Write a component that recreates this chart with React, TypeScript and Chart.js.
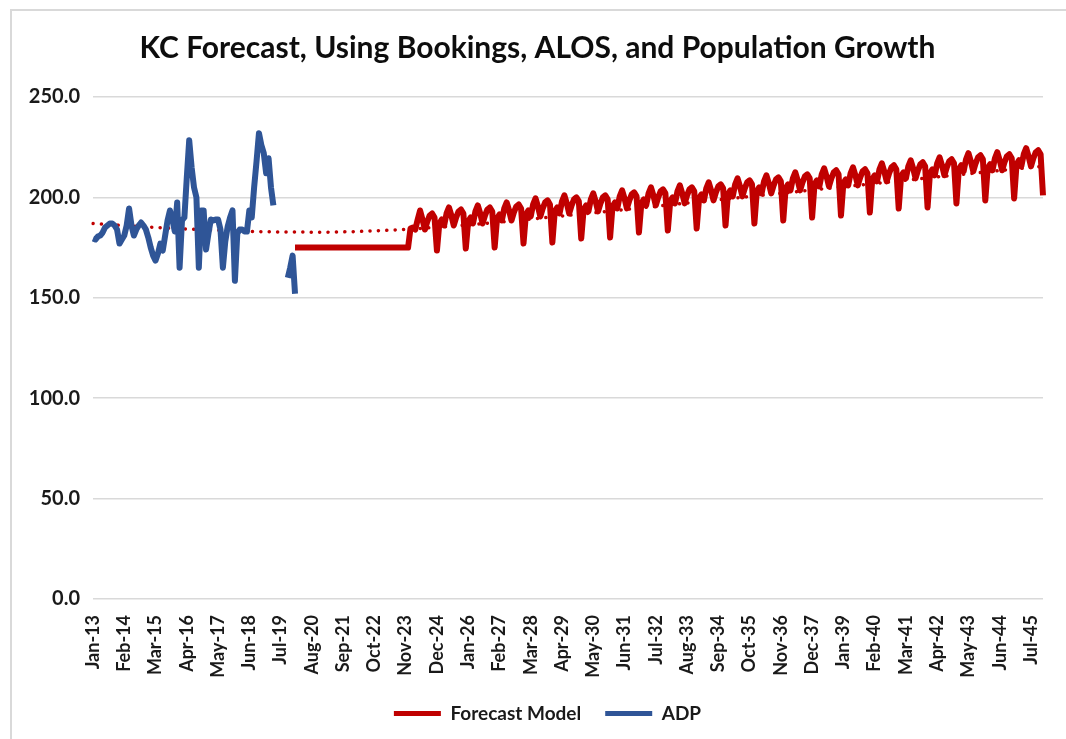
import React, { useEffect, useRef } from "react";
import { Chart, registerables } from "chart.js";

Chart.register(...registerables);

const TITLE = "KC Forecast, Using Bookings, ALOS, and Population Growth";
const MONTH_NAMES = ["Jan", "Feb", "Mar", "Apr", "May", "Jun", "Jul", "Aug", "Sep", "Oct", "Nov", "Dec"];
const FIRST_YEAR = 2013;
const N_MONTHS = 396; // Jan-13 .. Dec-45

const TICK_LABELS = [
  "Jan-13", "Feb-14", "Mar-15", "Apr-16", "May-17", "Jun-18", "Jul-19", "Aug-20",
  "Sep-21", "Oct-22", "Nov-23", "Dec-24", "Jan-26", "Feb-27", "Mar-28", "Apr-29",
  "May-30", "Jun-31", "Jul-32", "Aug-33", "Sep-34", "Oct-35", "Nov-36", "Dec-37",
  "Jan-39", "Feb-40", "Mar-41", "Apr-42", "May-43", "Jun-44", "Jul-45",
];
const TICK_EVERY = 13;

// ADP actuals, Jan-13 .. Apr-19
const ADP_2013_2019 = [
  179.5, 179, 180.5, 181, 182.5, 185, 186, 187, 187, 186, 184, 177,
  179, 181, 186, 194.5, 186, 181, 184, 186, 187.5, 186, 184, 180,
  175, 171, 168.5, 172, 177, 173.5, 181, 188.5, 193.5, 189, 183, 197.5,
  165, 188.5, 190, 210, 228.5, 215, 205, 200, 165, 193.5, 193.5, 174,
  182, 189, 188.5, 189, 189, 184, 165, 178, 185.5, 190, 193.5, 158.5,
  182, 184, 184, 183, 183, 193.5, 190, 205, 218, 232, 226, 222,
  212, 219.5, 205, 196,
];
// ADP actuals, Oct-19 .. Jan-20
const ADP_LATE_START = 81;
const ADP_LATE = [160, 165, 171, 152];

// Forecast model, flat part Jan-20 .. Dec-23
const FORECAST_START = 84;
const FORECAST_FLAT = [
  175, 175, 175, 175, 175, 175, 175, 175, 175, 175, 175, 175,
  175, 175, 175, 175, 175, 175, 175, 175, 175, 175, 175, 175,
  175, 175, 175, 175, 175, 175, 175, 175, 175, 175, 175, 175,
  175, 175, 175, 175, 175, 175, 175, 175, 175, 175, 175, 175,
];
// Forecast model, seasonal part Jan-24 .. Dec-45
const FORECAST_SEASONAL = [
  184.5, 185, 184, 189, 193.5, 189, 184, 188, 191, 192, 190, 173.5,
  187, 189, 186, 192, 195, 191, 186, 190, 193, 194, 192, 174.5,
  188, 190, 187, 193, 196, 192, 187, 191, 194, 195, 193, 175,
  189.5, 191.5, 188.5, 194.5, 197.5, 193.5, 188.5, 192.5, 195.5, 196.5, 194.5, 177,
  191.5, 193.5, 190.5, 196.5, 199.5, 195.5, 190.5, 194.5, 197.5, 198.5, 196.5, 177.5,
  193, 195, 192, 198, 201, 197, 192, 196, 199, 200, 198, 179.5,
  194, 196, 193, 199, 202, 198, 193, 197, 200, 201, 199, 180,
  195.5, 197.5, 194.5, 200.5, 203.5, 199.5, 194.5, 198.5, 201.5, 202.5, 200.5, 182.5,
  197, 199, 196, 202, 205, 201, 196, 200, 203, 204, 202, 183.5,
  198, 200, 197, 203, 206, 202, 197, 201, 204, 205, 203, 184.5,
  199.5, 201.5, 198.5, 204.5, 207.5, 203.5, 198.5, 202.5, 205.5, 206.5, 204.5, 186,
  201.5, 203.5, 200.5, 206.5, 209.5, 205.5, 200.5, 204.5, 207.5, 208.5, 206.5, 187,
  203, 205, 202, 208, 211, 207, 202, 206, 209, 210, 208, 188.5,
  204.5, 206.5, 203.5, 209.5, 212.5, 208.5, 203.5, 207.5, 210.5, 211.5, 209.5, 190,
  206.5, 208.5, 205.5, 211.5, 214.5, 210.5, 205.5, 209.5, 212.5, 213.5, 211.5, 191,
  207, 209, 206, 212, 215, 211, 206, 210, 213, 214, 212, 192.5,
  209, 211, 208, 214, 217, 213, 208, 212, 215, 216, 214, 194.5,
  210.5, 212.5, 209.5, 215.5, 218.5, 214.5, 209.5, 213.5, 216.5, 217.5, 215.5, 195,
  212, 214, 211, 217, 220, 216, 211, 215, 218, 219, 217, 197,
  214, 216, 213, 219, 222, 218, 213, 217, 220, 221, 219, 198.5,
  214.5, 216.5, 213.5, 219.5, 222.5, 218.5, 213.5, 217.5, 220.5, 221.5, 219.5, 199.5,
  216.5, 218.5, 215.5, 221.5, 224.5, 220.5, 215.5, 219.5, 222.5, 223.5, 221.5, 201,
];

// Polynomial trendline (dotted), read at these months
const TREND_MONTHS = [0, 24, 48, 72, 96, 120, 144, 168, 192, 216, 240, 264, 288, 312, 336, 360, 384, 395];
const TREND_VALUES = [187, 185.2, 183.8, 182.9, 182.7, 183.5, 185.2, 187.6, 190.4, 193.3, 196.3, 199.3, 202.3, 205.3, 208.3, 211.3, 214.2, 215.5];

const RED = "#C00000";
const BLUE = "#2F5597";
const FONT = "Lato, 'Open Sans', sans-serif";

// nudges the title and legend boxes horizontally to sit where the original has them
const shiftBoxes = {
  id: "shiftBoxes",
  afterLayout(chart: any) {
    const t = chart.titleBlock;
    if (t) {
      t.left += 16;
      t.right += 16;
    }
    const l = chart.legend;
    if (l) {
      l.left += 26;
      l.right += 26;
    }
  },
};

export default function App() {
  const ref = useRef<HTMLCanvasElement | null>(null);

  useEffect(() => {
    const canvas = ref.current;
    if (!canvas) return;

    const labels: string[] = [];
    for (let i = 0; i < N_MONTHS; i++) {
      const y = (FIRST_YEAR + Math.floor(i / 12)) % 100;
      labels.push(MONTH_NAMES[i % 12] + "-" + String(y).padStart(2, "0"));
    }

    const adp: (number | null)[] = new Array(N_MONTHS).fill(null);
    ADP_2013_2019.forEach((v, i) => (adp[i] = v));
    ADP_LATE.forEach((v, k) => (adp[ADP_LATE_START + k] = v));

    const forecast: (number | null)[] = new Array(FORECAST_START).fill(null).concat(FORECAST_FLAT, FORECAST_SEASONAL);

    const trend: (number | null)[] = new Array(N_MONTHS).fill(null);
    TREND_MONTHS.forEach((m, k) => (trend[m] = TREND_VALUES[k]));

    const chart = new Chart(canvas, {
      type: "line",
      plugins: [shiftBoxes],
      data: {
        labels,
        datasets: [
          {
            label: "Forecast Model",
            data: forecast,
            borderColor: RED,
            backgroundColor: RED,
            borderWidth: 6,
            pointRadius: 0,
            borderJoinStyle: "round",
            tension: 0,
            spanGaps: false,
            order: 0,
          },
          {
            label: "ADP",
            data: adp,
            borderColor: BLUE,
            backgroundColor: BLUE,
            borderWidth: 6,
            pointRadius: 0,
            borderJoinStyle: "round",
            tension: 0,
            spanGaps: false,
            order: 0,
          },
          {
            label: "Trend",
            data: trend,
            borderColor: RED,
            backgroundColor: RED,
            borderWidth: 3.5,
            borderDash: [0.1, 8.3],
            borderCapStyle: "round",
            pointRadius: 0,
            spanGaps: true,
            cubicInterpolationMode: "monotone",
            order: 1,
          },
        ],
      },
      options: {
        responsive: false,
        animation: false,
        layout: { padding: { left: 0, right: 23, top: 0, bottom: 6 } },
        plugins: {
          tooltip: { enabled: false },
          title: {
            display: true,
            text: TITLE,
            color: "#0d0d0d",
            font: { family: FONT, size: 30, weight: "bold" },
            padding: { top: 30, bottom: 31 },
          },
          legend: {
            position: "bottom",
            labels: {
              color: "#1a1a1a",
              font: { family: FONT, size: 19, weight: "bold" },
              boxWidth: 47,
              boxHeight: 5,
              padding: 24,
              filter: (item) => item.text !== "Trend",
              generateLabels: (c) =>
                Chart.defaults.plugins.legend.labels.generateLabels(c).map((it) => ({ ...it, lineWidth: 0 })),
            },
          },
        },
        scales: {
          x: {
            grid: { display: false },
            border: { display: false },
            ticks: {
              autoSkip: false,
              maxRotation: 90,
              minRotation: 90,
              padding: 8,
              color: "#1a1a1a",
              font: { family: FONT, size: 18, weight: "bold" },
              callback: (_v, idx) => (idx % TICK_EVERY === 0 ? TICK_LABELS[idx / TICK_EVERY] : null),
            },
            afterFit: (s) => {
              s.height = 81;
            },
          },
          y: {
            min: 0,
            max: 250,
            grid: { color: "#d9d9d9", lineWidth: 1.5, drawTicks: false },
            border: { display: false },
            ticks: {
              stepSize: 50,
              padding: 13,
              color: "#1a1a1a",
              font: { family: FONT, size: 20, weight: "bold" },
              callback: (v) => Number(v).toFixed(1),
            },
            afterFit: (s) => {
              s.width = 93;
            },
          },
        },
      },
    });

    return () => chart.destroy();
  }, []);

  return (
    <>
      <canvas ref={ref} width={1066} height={739} style={{ position: "fixed", left: 0, top: 0, background: "#fff" }} />
      <div
        style={{
          position: "fixed",
          left: 10,
          top: 9,
          width: 1100,
          height: 800,
          borderLeft: "2px solid #d9d9d9",
          borderTop: "2px solid #d9d9d9",
          pointerEvents: "none",
        }}
      />
    </>
  );
}
